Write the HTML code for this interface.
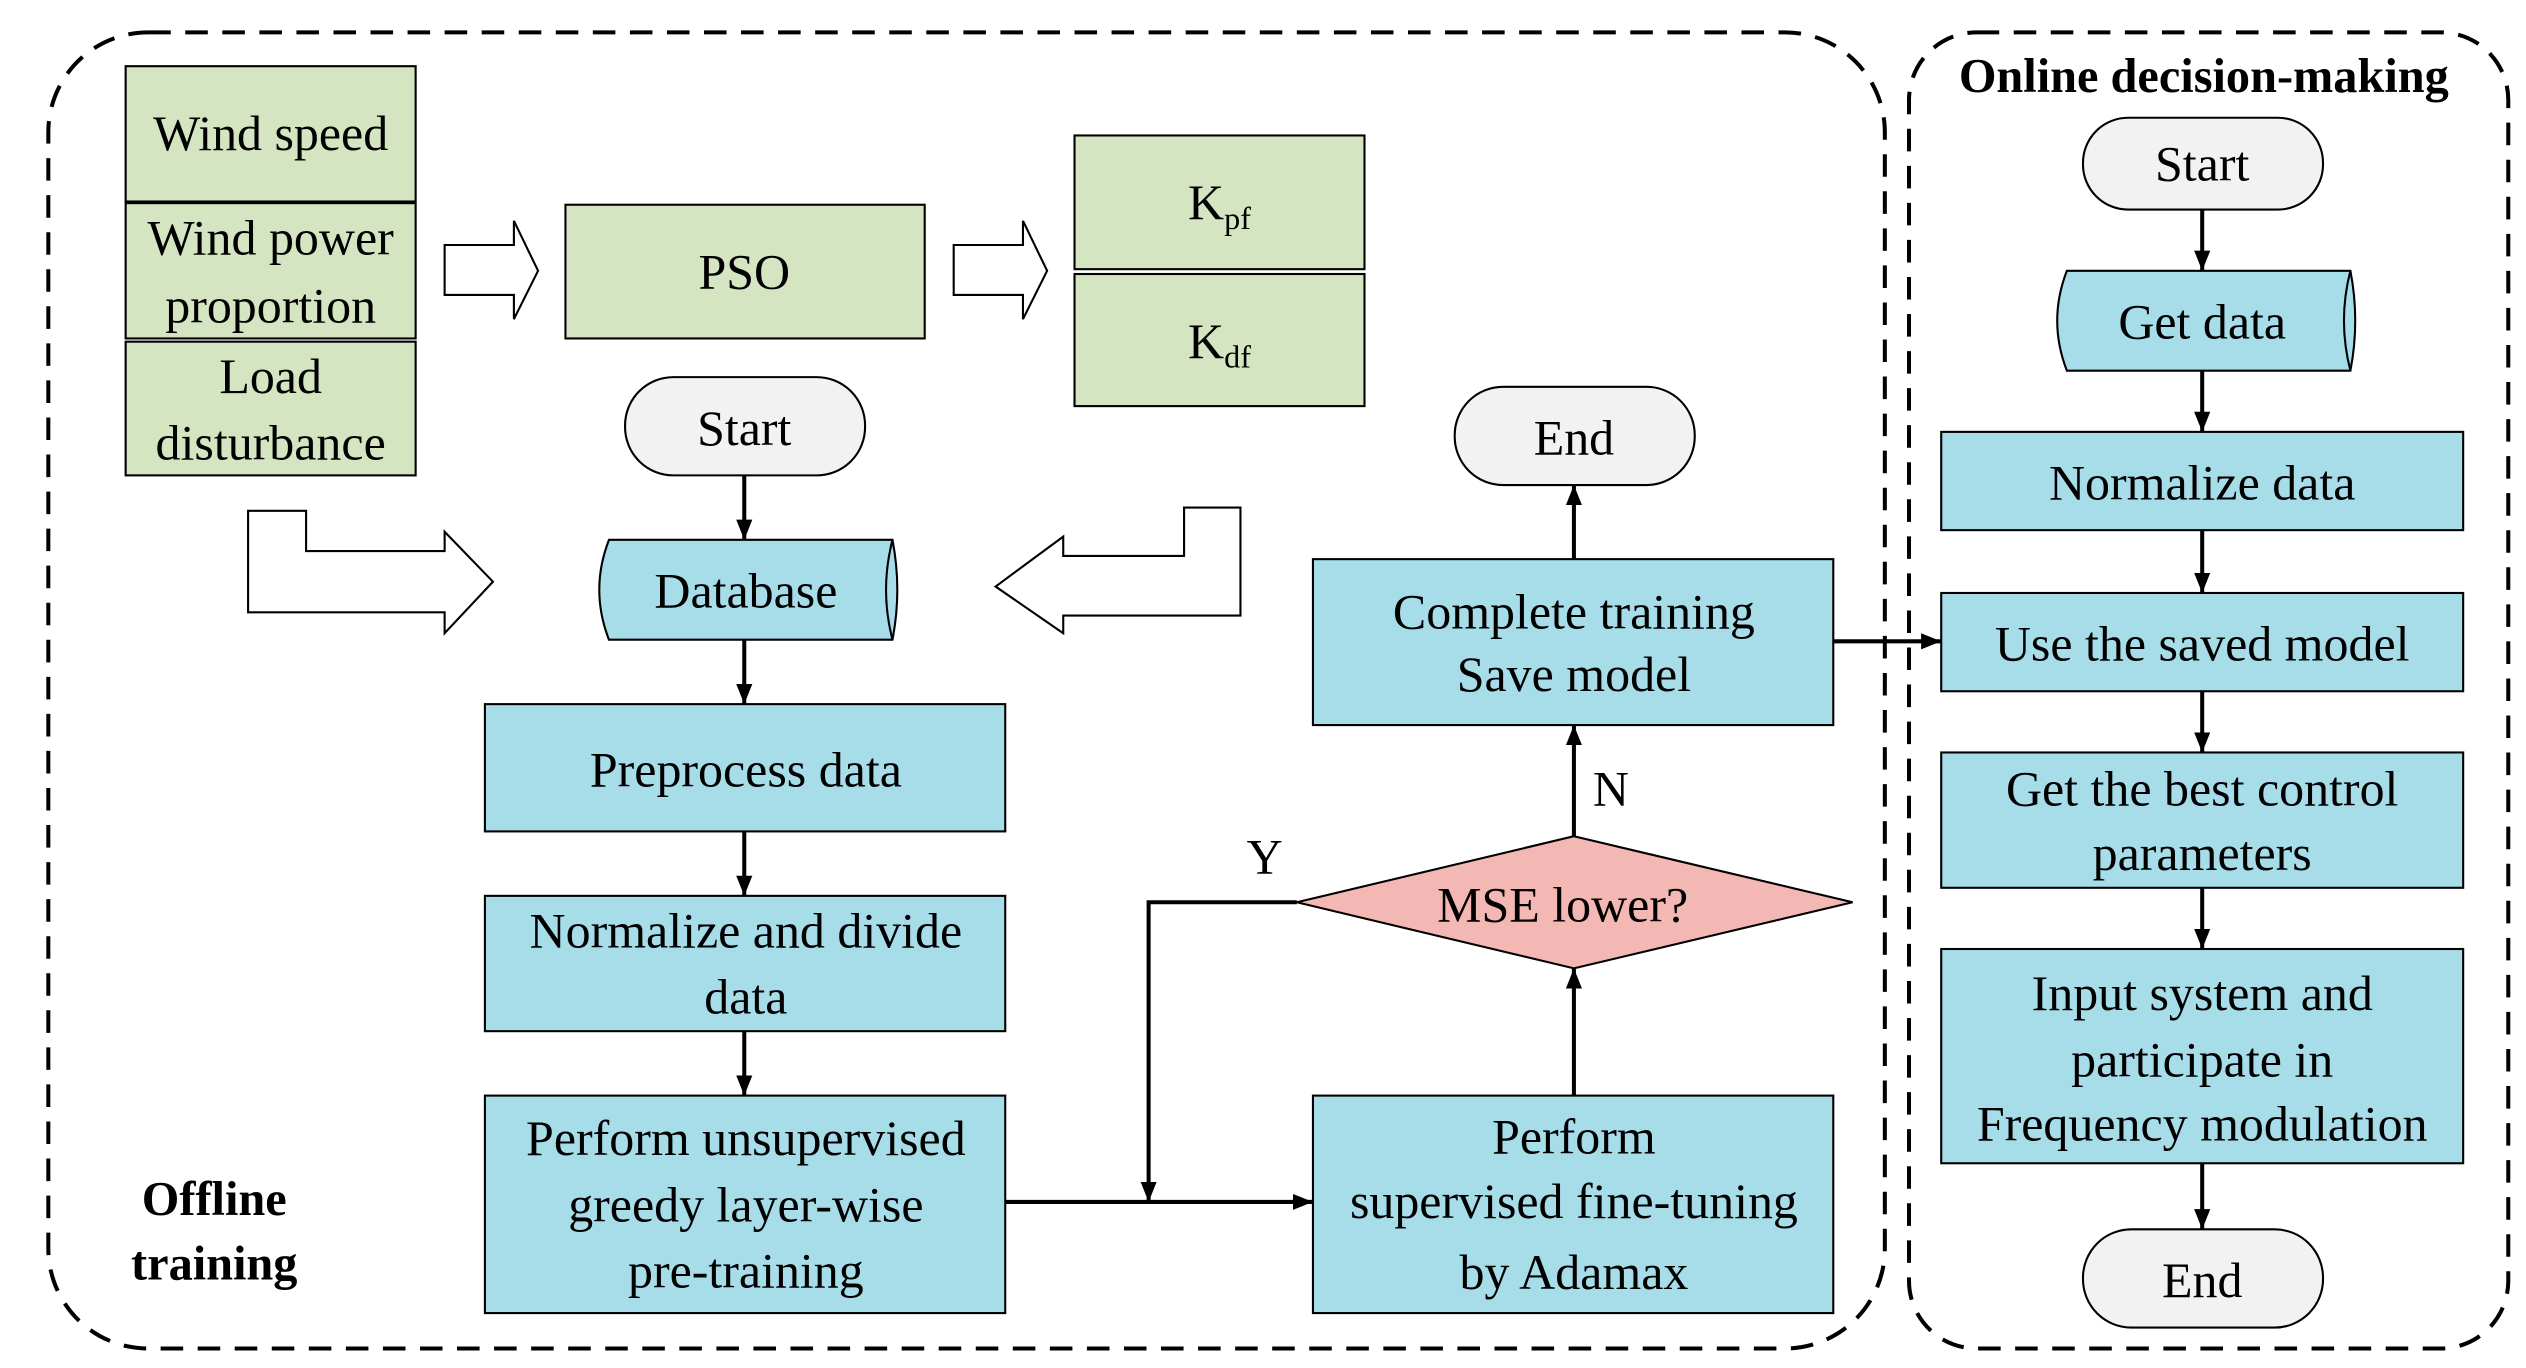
<!DOCTYPE html>
<html><head><meta charset="utf-8"><style>html,body{margin:0;padding:0;background:#fff}svg{display:block}</style></head>
<body>
<svg width="2526" height="1368" viewBox="0 0 1568 849" xmlns="http://www.w3.org/2000/svg" font-family="Liberation Serif, serif" font-size="31">
<defs><marker id="a" viewBox="0 0 10 10" refX="10" refY="5" markerWidth="5" markerHeight="5" orient="auto"><path d="M0,1 L10,5 L0,9 Z" fill="#000"/></marker></defs>
<rect x="30" y="20" width="1140" height="817" rx="62" fill="none" stroke="#000" stroke-width="2.5" stroke-dasharray="14,9"/>
<rect x="1185" y="20" width="372" height="817" rx="42" fill="none" stroke="#000" stroke-width="2.5" stroke-dasharray="14,9"/>
<g stroke="#000" stroke-width="1.3" fill="#d5e4c1">
<rect x="78" y="41" width="180" height="84"/><rect x="78" y="126" width="180" height="84"/><rect x="78" y="212" width="180" height="83"/>
<rect x="351" y="127" width="223" height="83"/><rect x="667" y="84" width="180" height="83"/><rect x="667" y="170" width="180" height="82"/>
</g>
<g stroke="#000" stroke-width="1.3" fill="#fff">
<path d="M276,152 H319 V137 L334,168 L319,198 V183 H276 Z"/>
<path d="M592,152 H635 V137 L650,168 L635,198 V183 H592 Z"/>
<path d="M154,317 H190 V342 H276 V330 L306,361 L276,393 V380 H154 Z"/>
<path d="M770,315 V382 H660 V393 L618,364 L660,333 V345 H735 V315 Z"/>
</g>
<g stroke="#000" stroke-width="1.3">
<rect x="388" y="234" width="149" height="61" rx="30" fill="#f2f2f2"/>
<rect x="903" y="240" width="149" height="61" rx="30" fill="#f2f2f2"/>
<rect x="1293" y="73" width="149" height="57" rx="28" fill="#f2f2f2"/>
<rect x="1293" y="763" width="149" height="61" rx="30" fill="#f2f2f2"/>
<path d="M378,335 H554 Q560,366 554,397 H378 Q366,366 378,335 Z" fill="#a7dde9"/>
<path d="M554,335 Q546,366 554,397" fill="none"/>
<path d="M1283,168 H1459 Q1465,199 1459,230 H1283 Q1271,199 1283,168 Z" fill="#a7dde9"/>
<path d="M1459,168 Q1451,199 1459,230" fill="none"/>
<g fill="#a7dde9">
<rect x="301" y="437" width="323" height="79"/><rect x="301" y="556" width="323" height="84"/><rect x="301" y="680" width="323" height="135"/>
<rect x="815" y="680" width="323" height="135"/><rect x="815" y="347" width="323" height="103"/>
<rect x="1205" y="268" width="324" height="61"/><rect x="1205" y="368" width="324" height="61"/><rect x="1205" y="467" width="324" height="84"/><rect x="1205" y="589" width="324" height="133"/>
</g>
<path d="M977,519 L1150,560 L977,601 L805,560 Z" fill="#f4b8b4"/>
</g>
<g stroke="#000" stroke-width="2.5" fill="none" marker-end="url(#a)">
<path d="M462,295 V335"/><path d="M462,397 V437"/><path d="M462,516 V556"/><path d="M462,640 V680"/>
<path d="M624,746 H815"/><path d="M805,560 H713 V746"/><path d="M977,680 V601"/><path d="M977,519 V450"/><path d="M977,347 V301"/>
<path d="M1138,398 H1205"/>
<path d="M1367,130 V168"/><path d="M1367,230 V268"/><path d="M1367,329 V368"/><path d="M1367,429 V467"/><path d="M1367,551 V589"/><path d="M1367,722 V763"/>
</g>
<g text-anchor="middle" fill="#000">
<text x="168" y="93">Wind speed</text>
<text x="168" y="158">Wind power</text><text x="168" y="200">proportion</text>
<text x="168" y="244">Load</text><text x="168" y="285">disturbance</text>
<text x="462" y="179">PSO</text>
<text x="757" y="136">K<tspan font-size="20" dy="6">pf</tspan></text>
<text x="757" y="222">K<tspan font-size="20" dy="6">df</tspan></text>
<text x="462" y="276">Start</text>
<text x="977" y="282">End</text>
<text x="463" y="377">Database</text>
<text x="463" y="488">Preprocess data</text>
<text x="463" y="588">Normalize and divide</text><text x="463" y="629">data</text>
<text x="463" y="717">Perform unsupervised</text><text x="463" y="758">greedy layer-wise</text><text x="463" y="799">pre-training</text>
<text x="977" y="716">Perform</text><text x="977" y="756">supervised fine-tuning</text><text x="977" y="800">by Adamax</text>
<text x="970" y="572">MSE lower?</text>
<text x="977" y="390">Complete training</text><text x="977" y="429">Save model</text>
<text x="1000" y="500">N</text><text x="785" y="542">Y</text>
<text x="133" y="754" font-weight="bold" font-size="30">Offline</text>
<text x="133" y="794" font-weight="bold" font-size="30">training</text>
<text x="1368" y="57" font-weight="bold" font-size="30">Online decision-making</text>
<text x="1367" y="112">Start</text>
<text x="1367" y="210">Get data</text>
<text x="1367" y="310">Normalize  data</text>
<text x="1367" y="410">Use the saved model</text>
<text x="1367" y="500">Get the best control</text><text x="1367" y="540">parameters</text>
<text x="1367" y="627">Input system and</text><text x="1367" y="668">participate in</text><text x="1367" y="708">Frequency modulation</text>
<text x="1367" y="805">End</text>
</g>
</svg>
</body></html>
